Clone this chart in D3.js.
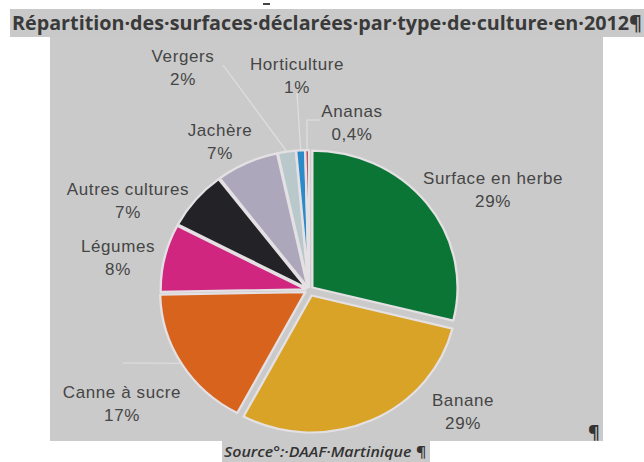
<!DOCTYPE html>
<html><head><meta charset="utf-8">
<script src="https://cdn.jsdelivr.net/npm/d3@7/dist/d3.min.js"></script>
<style>html,body{margin:0;padding:0;background:#fff;}svg{display:block;}</style>
</head><body>
<svg id="c" width="644" height="462"></svg>
<script>
// ---- data ----
const categories = ["Surface en herbe","Banane","Canne à sucre","Légumes","Autres cultures","Jachère","Vergers","Horticulture","Ananas"];
const values = [29, 29, 17, 8, 7, 7, 2, 1, 0.4];
const percentLabels = ["29%","29%","17%","8%","7%","7%","2%","1%","0,4%"];
const colors = ["#0b7536","#d8a326","#d8631d","#d0267f","#232327","#aca7ba","#b9c8cb","#2b8bc9","#b3313b"];
const titleText = "Répartition·des·surfaces·déclarées·par·type·de·culture·en·2012¶";
const sourceText = "Source°:·DAAF·Martinique ¶";

// ---- layout (styles / positions) ----
const W = 644, H = 462;
const cx = 309, cy = 290, r = 137, sx = 1.06;
const explodeBy = [4, 6, 4, 3, 3, 3, 3, 3, 3];
// label centre offsets from pie centre
const labelOffsets = [[184,-101],[154,121],[-187,113],[-191,-33],[-181,-90],[-89,-149],[-126,-223],[-12,-215],[43,-168]];
// leader line anchor points (relative to pie centre), null = no line
const leaderEnds = [null,null,[[-186,73]],null,null,null,[[-86,-225]],[[-12,-197]],[[-2,-170],[11,-170]]];

const svg = d3.select("#c");

// title band
svg.append("rect").attr("x",10).attr("y",9).attr("width",634).attr("height",28).attr("fill","#c9c9c9");
svg.append("rect").attr("x",263).attr("y",3).attr("width",7).attr("height",2).attr("fill","#444");
svg.append("text").attr("x",12).attr("y",30)
  .attr("font-family","'Open Sans', 'Noto Sans', sans-serif").attr("font-weight",700)
  .attr("font-size",19).attr("fill","#3a3a3a")
  .attr("textLength",630).attr("lengthAdjust","spacingAndGlyphs")
  .text(titleText);

// chart area
svg.append("rect").attr("x",50).attr("y",37).attr("width",553).attr("height",404).attr("fill","#cacaca");

// pie
const pie = d3.pie().sort(null).value(d => d)(values);
const arc = d3.arc().innerRadius(0).outerRadius(r);
const edgeArc = d3.arc().innerRadius(r + 3).outerRadius(r + 3);
const g = svg.append("g").attr("transform", `translate(${cx},${cy}) scale(${sx},1)`);
g.selectAll("path").data(pie).join("path")
  .attr("d", arc)
  .attr("transform", (d,i) => {
    const a = (d.startAngle + d.endAngle) / 2;
    return `translate(${Math.sin(a)*explodeBy[i]},${-Math.cos(a)*explodeBy[i]})`;
  })
  .attr("fill", (d,i) => colors[i])
  .attr("stroke", "#e4e0e3").attr("stroke-width", 2.2).attr("stroke-linejoin","round");

// leader lines
const lg = svg.append("g").attr("transform", `translate(${cx},${cy})`);
pie.forEach((d,i) => {
  if (!leaderEnds[i]) return;
  const c = edgeArc.centroid(d);
  const pts = [[c[0]*sx, c[1]]].concat(leaderEnds[i]);
  lg.append("path").attr("d", d3.line()(pts))
    .attr("fill","none").attr("stroke","#e0e0e0").attr("stroke-width",1.2);
});

// labels
const tg = svg.append("g").attr("transform", `translate(${cx},${cy})`)
  .attr("font-family","'Liberation Sans', Arial, sans-serif").attr("font-size",17)
  .attr("letter-spacing","0.6").attr("fill","#454545").attr("text-anchor","middle");
categories.forEach((name,i) => {
  const [dx,dy] = labelOffsets[i];
  const t = tg.append("text").attr("x",dx).attr("y",dy);
  t.append("tspan").attr("x",dx).attr("dy","-0.32em").text(name);
  t.append("tspan").attr("x",dx).attr("dy","1.36em").text(percentLabels[i]);
});

// pilcrow bottom right
svg.append("text").attr("x",588).attr("y",439).attr("font-family","'Open Sans', sans-serif")
  .attr("font-weight",700).attr("font-size",18).attr("fill","#333").text("¶");

// source
svg.append("rect").attr("x",222).attr("y",441).attr("width",208).attr("height",21).attr("fill","#cacaca");
svg.append("text").attr("x",224).attr("y",457)
  .attr("font-family","'Open Sans', 'Noto Sans', sans-serif").attr("font-style","italic").attr("font-weight",600)
  .attr("font-size",14).attr("fill","#333")
  .attr("textLength",202).attr("lengthAdjust","spacingAndGlyphs")
  .text(sourceText);
</script>
</body></html>
